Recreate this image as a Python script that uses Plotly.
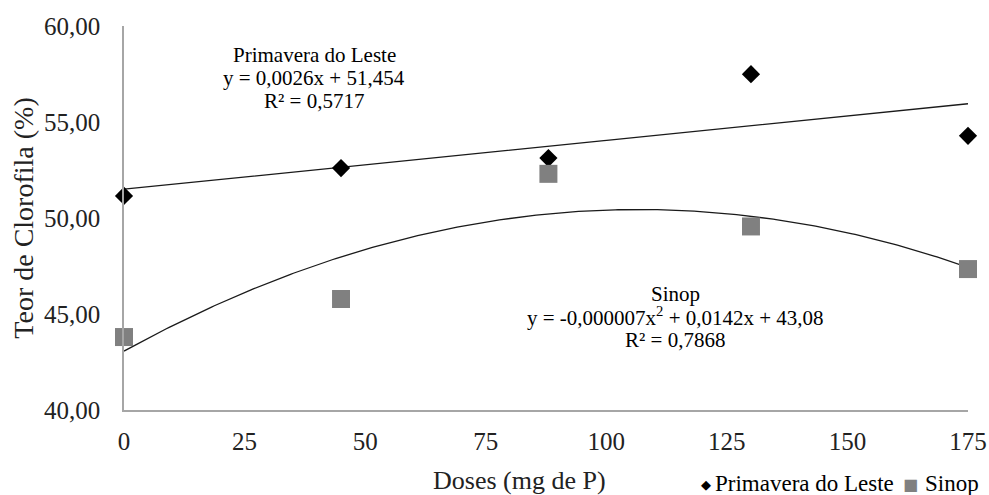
import numpy as np
import plotly.graph_objects as go

# Doses of P (mg) and chlorophyll content (%) for the two sites
doses = [0, 45, 88, 130, 175]
primavera = [51.15, 52.60, 53.12, 57.49, 54.28]
sinop = [43.80, 45.78, 52.30, 49.56, 47.34]
series_names = ["Primavera do Leste", "Sinop"]

x_ticks = [0, 25, 50, 75, 100, 125, 150, 175]
y_ticks = [40, 45, 50, 55, 60]
y_tick_text = ["40,00", "45,00", "50,00", "55,00", "60,00"]

eq_primavera = ["Primavera do Leste", "y = 0,0026x + 51,454", "R² = 0,5717"]
eq_sinop = ["Sinop", "y = -0,000007x<sup>2</sup> + 0,0142x + 43,08", "R² = 0,7868"]

FONT = "Liberation Serif"
AXIS_GRAY = "#a6a6a6"
SINOP_GRAY = "#808080"
TEXT = "#222"

W, H = 989, 495
ML, MR, MT, MB = 123.5, 21, 26, 84.5
PW, PH = W - ML - MR, H - MT - MB


def px_to_paper(px, py):
    """Convert page pixel coordinates into paper coordinates."""
    return (px - ML) / PW, (H - MB - py) / PH


def add_text(fig, px, py, text, size, color=TEXT, anchor="center", family=FONT):
    ax, ay = px_to_paper(px, py)
    fig.add_annotation(x=ax, y=ay, xref="paper", yref="paper", text=text,
                       showarrow=False, xanchor=anchor, yanchor="middle",
                       font=dict(family=family, size=size, color=color))


# Regression curves fitted to each site (linear and quadratic)
xs = np.linspace(0, 175, 300)
p_lin = np.polyfit(doses, primavera, 1)
p_quad = np.polyfit(doses, sinop, 2)

fig = go.Figure()

fig.add_trace(go.Scatter(x=xs, y=np.polyval(p_lin, xs), mode="lines",
                         line=dict(color="#1a1a1a", width=1.3),
                         showlegend=False, hoverinfo="skip"))
fig.add_trace(go.Scatter(x=xs, y=np.polyval(p_quad, xs), mode="lines",
                         line=dict(color="#1a1a1a", width=1.3),
                         showlegend=False, hoverinfo="skip"))

fig.add_trace(go.Scatter(x=doses, y=primavera, mode="markers", name=series_names[0],
                         marker=dict(symbol="diamond", size=14, color="black"),
                         showlegend=False, cliponaxis=False))
fig.add_trace(go.Scatter(x=doses, y=sinop, mode="markers", name=series_names[1],
                         marker=dict(symbol="square", size=18, color=SINOP_GRAY),
                         showlegend=False, cliponaxis=False))

# Regression equations, one annotation per line for tight spacing
for lines, cx, ys in ((eq_primavera, 314, (55, 78, 101)),
                      (eq_sinop, 675, (294, 317, 340))):
    for txt, py in zip(lines, ys):
        add_text(fig, cx, py, txt, 21, color="black")

# x-axis title
add_text(fig, 519, 481, "Doses (mg de P)", 26)

# Legend row below the plot: symbol glyph followed by series name
add_text(fig, 706, 485, "◆", 13, color="black", family="DejaVu Sans")
add_text(fig, 713, 484, series_names[0], 23, color="black", anchor="left")
add_text(fig, 910, 485, "■", 16, color=SINOP_GRAY, family="DejaVu Sans")
add_text(fig, 923, 484, series_names[1], 23, color="black", anchor="left")

fig.update_layout(
    width=W, height=H,
    margin=dict(l=ML, r=MR, t=MT, b=MB, autoexpand=False),
    paper_bgcolor="white", plot_bgcolor="white",
    font=dict(family=FONT, size=22, color=TEXT),
    showlegend=False,
    xaxis=dict(range=[0, 175], tickvals=x_ticks, showgrid=False, zeroline=False,
               showline=True, linecolor=AXIS_GRAY, linewidth=1.5, ticks="",
               ticklabelstandoff=8,
               tickfont=dict(family=FONT, size=25, color=TEXT)),
    yaxis=dict(range=[40, 60], tickvals=y_ticks, ticktext=y_tick_text, showgrid=False,
               zeroline=False, showline=True, linecolor=AXIS_GRAY, linewidth=1.5,
               ticks="", ticklabelstandoff=17,
               tickfont=dict(family=FONT, size=25, color=TEXT),
               title=dict(text="Teor de Clorofila (%)", standoff=2,
                          font=dict(family=FONT, size=28, color=TEXT))),
)

fig.write_html("out.html")
